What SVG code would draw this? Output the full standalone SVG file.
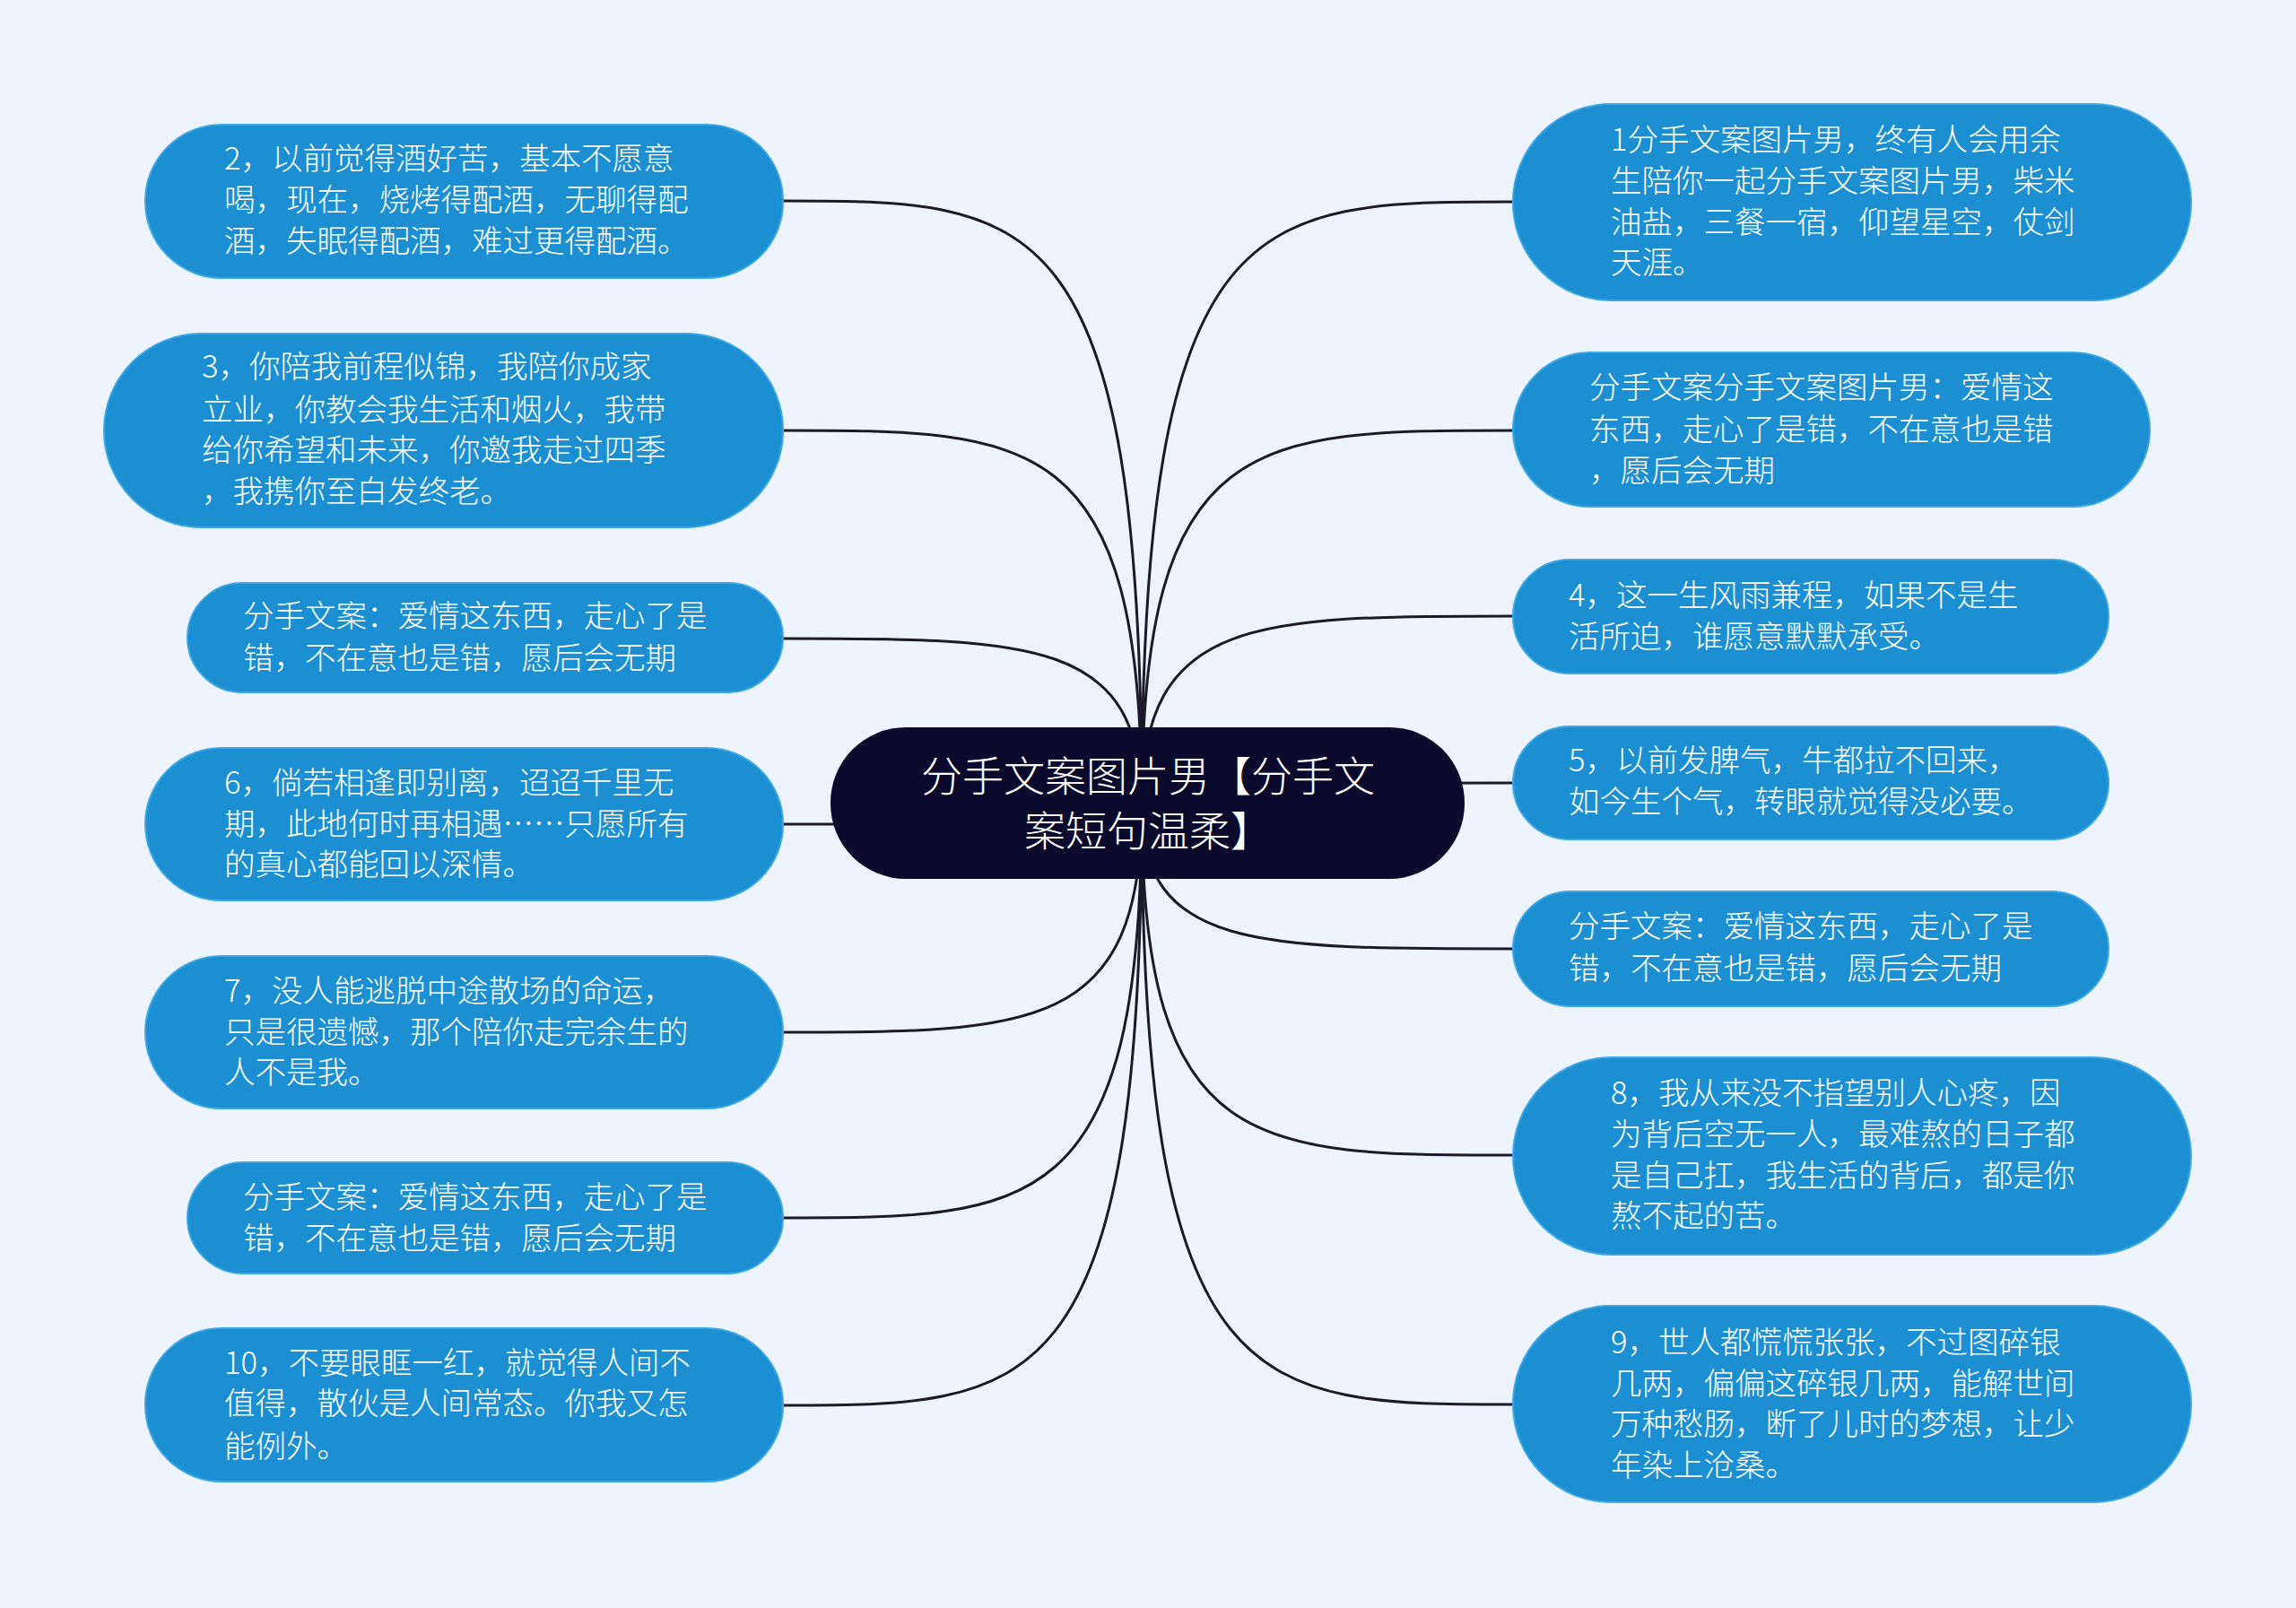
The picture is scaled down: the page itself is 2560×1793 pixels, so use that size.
<svg xmlns="http://www.w3.org/2000/svg" width="2560" height="1793" viewBox="0 0 2560 1793">
<style>
.n{fill:#1b8fd2;stroke:#3aa6e4;stroke-width:2}
.t{fill:#fff;font-family:"Noto Sans CJK SC","Noto Sans",sans-serif;font-size:34.5px;font-weight:300}
.c{fill:none;stroke:#1a1a2a;stroke-width:3}
</style>
<rect width="2560" height="1793" fill="#eef4fe"/>
<g id="connectors">
<path class="c" d="M1273 898 C1273 224 1150 224 873 224"/>
<path class="c" d="M1273 898 C1273 480 1150 480 873 480"/>
<path class="c" d="M1273 898 C1273 712 1150 712 873 712"/>
<path class="c" d="M1273 898 C1273 919 1150 919 873 919"/>
<path class="c" d="M1273 898 C1273 1151 1150 1151 873 1151"/>
<path class="c" d="M1273 898 C1273 1358 1150 1358 873 1358"/>
<path class="c" d="M1273 898 C1273 1567 1150 1567 873 1567"/>
<path class="c" d="M1273 898 C1273 225 1400 225 1687 225"/>
<path class="c" d="M1273 898 C1273 480 1400 480 1687 480"/>
<path class="c" d="M1273 898 C1273 687 1400 687 1687 687"/>
<path class="c" d="M1273 898 C1273 873 1400 873 1687 873"/>
<path class="c" d="M1273 898 C1273 1058 1400 1058 1687 1058"/>
<path class="c" d="M1273 898 C1273 1288 1400 1288 1687 1288"/>
<path class="c" d="M1273 898 C1273 1566 1400 1566 1687 1566"/>
</g>
<g id="center"><rect x="926" y="811" width="707" height="169" rx="84" fill="#0b0a2d"/>
<text class="t" style="font-size:46px" x="1280" y="882" text-anchor="middle">分手文案图片男【分手文</text>
<text class="t" style="font-size:46px" x="1280" y="943" text-anchor="middle">案短句温柔】</text></g>
<g id="l1"><rect class="n" x="162" y="139" width="711" height="171" rx="85"/>
<text class="t" x="250" y="189">2，以前觉得酒好苦，基本不愿意</text><text class="t" x="250" y="235">喝，现在，烧烤得配酒，无聊得配</text><text class="t" x="250" y="281">酒，失眠得配酒，难过更得配酒。</text></g>
<g id="l2"><rect class="n" x="116" y="372" width="757" height="216" rx="108"/>
<text class="t" x="225" y="421">3，你陪我前程似锦，我陪你成家</text><text class="t" x="225" y="469">立业，你教会我生活和烟火，我带</text><text class="t" x="225" y="514">给你希望和未来，你邀我走过四季</text><text class="t" x="225" y="560">，我携你至白发终老。</text></g>
<g id="l3"><rect class="n" x="209" y="650" width="664" height="122" rx="61"/>
<text class="t" x="271" y="699">分手文案：爱情这东西，走心了是</text><text class="t" x="271" y="746">错，不在意也是错，愿后会无期</text></g>
<g id="l4"><rect class="n" x="162" y="834" width="711" height="170" rx="85"/>
<text class="t" x="250" y="885">6，倘若相逢即别离，迢迢千里无</text><text class="t" x="250" y="931">期，此地何时再相遇……只愿所有</text><text class="t" x="250" y="976">的真心都能回以深情。</text></g>
<g id="l5"><rect class="n" x="162" y="1066" width="711" height="170" rx="85"/>
<text class="t" x="250" y="1117">7，没人能逃脱中途散场的命运，</text><text class="t" x="250" y="1163">只是很遗憾，那个陪你走完余生的</text><text class="t" x="250" y="1208">人不是我。</text></g>
<g id="l6"><rect class="n" x="209" y="1296" width="664" height="124" rx="62"/>
<text class="t" x="271" y="1347">分手文案：爱情这东西，走心了是</text><text class="t" x="271" y="1393">错，不在意也是错，愿后会无期</text></g>
<g id="l7"><rect class="n" x="162" y="1481" width="711" height="171" rx="85"/>
<text class="t" x="250" y="1532">10，不要眼眶一红，就觉得人间不</text><text class="t" x="250" y="1577">值得，散伙是人间常态。你我又怎</text><text class="t" x="250" y="1625">能例外。</text></g>
<g id="r1"><rect class="n" x="1687" y="116" width="756" height="219" rx="109"/>
<text class="t" x="1796" y="168">1分手文案图片男，终有人会用余</text><text class="t" x="1796" y="214">生陪你一起分手文案图片男，柴米</text><text class="t" x="1796" y="260">油盐，三餐一宿，仰望星空，仗剑</text><text class="t" x="1796" y="305">天涯。</text></g>
<g id="r2"><rect class="n" x="1687" y="393" width="710" height="172" rx="86"/>
<text class="t" x="1772" y="444">分手文案分手文案图片男：爱情这</text><text class="t" x="1772" y="491">东西，走心了是错，不在意也是错</text><text class="t" x="1772" y="537">，愿后会无期</text></g>
<g id="r3"><rect class="n" x="1687" y="624" width="664" height="127" rx="63"/>
<text class="t" x="1749" y="676">4，这一生风雨兼程，如果不是生</text><text class="t" x="1749" y="722">活所迫，谁愿意默默承受。</text></g>
<g id="r4"><rect class="n" x="1687" y="810" width="664" height="126" rx="63"/>
<text class="t" x="1749" y="860">5，以前发脾气，牛都拉不回来，</text><text class="t" x="1749" y="906">如今生个气，转眼就觉得没必要。</text></g>
<g id="r5"><rect class="n" x="1687" y="994" width="664" height="128" rx="64"/>
<text class="t" x="1749" y="1045">分手文案：爱情这东西，走心了是</text><text class="t" x="1749" y="1092">错，不在意也是错，愿后会无期</text></g>
<g id="r6"><rect class="n" x="1687" y="1179" width="756" height="220" rx="110"/>
<text class="t" x="1796" y="1231">8，我从来没不指望别人心疼，因</text><text class="t" x="1796" y="1277">为背后空无一人，最难熬的日子都</text><text class="t" x="1796" y="1323">是自己扛，我生活的背后，都是你</text><text class="t" x="1796" y="1368">熬不起的苦。</text></g>
<g id="r7"><rect class="n" x="1687" y="1456" width="756" height="219" rx="109"/>
<text class="t" x="1796" y="1509">9，世人都慌慌张张，不过图碎银</text><text class="t" x="1796" y="1555">几两，偏偏这碎银几两，能解世间</text><text class="t" x="1796" y="1600">万种愁肠，断了儿时的梦想，让少</text><text class="t" x="1796" y="1646">年染上沧桑。</text></g>
</svg>
